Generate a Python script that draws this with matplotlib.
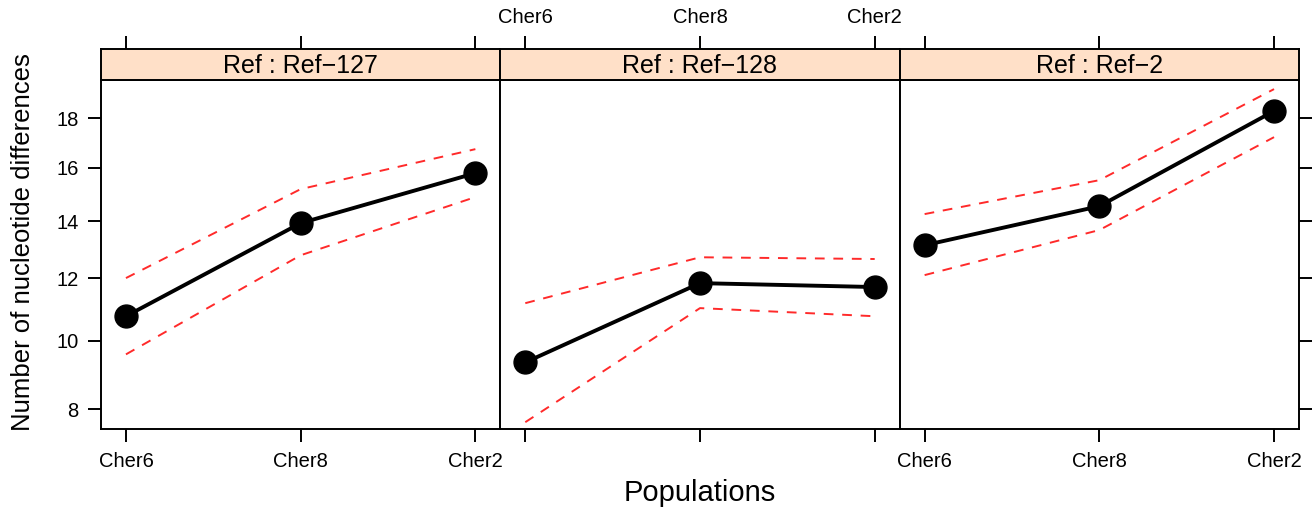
import numpy as np
import matplotlib
matplotlib.use("Agg")
import matplotlib.pyplot as plt

plt.rcParams['font.family'] = ['Liberation Sans', 'DejaVu Sans']

populations = ["Cher6", "Cher8", "Cher2"]
panels = ["Ref : Ref\u2212127", "Ref : Ref\u2212128", "Ref : Ref\u22122"]
means = [[10.76, 13.93, 15.80],
         [9.34, 11.84, 11.71],
         [13.14, 14.55, 18.29]]
upper = [[12.01, 15.19, 16.74],
         [11.18, 12.72, 12.66],
         [14.26, 15.53, 19.21]]
lower = [[9.58, 12.79, 14.89],
         [7.65, 11.02, 10.76],
         [12.11, 13.68, 17.22]]
yticks = [8, 10, 12, 14, 16, 18]

W, H = 1313, 509
fig = plt.figure(figsize=(W / 100, H / 100), dpi=100)

left_px, right_px = 101, 1299
panel_top, panel_bot = 80, 429.3
strip_top = 49.3
pw = (right_px - left_px) / 3
x = np.arange(1, 4)
xlim = (1 - 25 / 175, 3 + 25 / 175)
ylim = (7.46, 19.6)

tick_len = 9.2
lw_axis = 1.4

for i in range(3):
    l = (left_px + i * pw) / W
    ax = fig.add_axes([l, 1 - panel_bot / H, pw / W, (panel_bot - panel_top) / H])
    ax.set_yscale('function', functions=(np.sqrt, np.square))
    ax.set_xlim(*xlim)
    ax.set_ylim(*ylim)
    for s in ax.spines.values():
        s.set_linewidth(lw_axis)
    ax.plot(x, upper[i], color='#ff2a2a', lw=1.4, dashes=(5, 4.5))
    ax.plot(x, lower[i], color='#ff2a2a', lw=1.4, dashes=(5, 4.5))
    ax.plot(x, means[i], color='black', lw=2.8, marker='o', markersize=16.5,
            solid_capstyle='round')
    ax.set_xticks(x)
    ax.set_yticks(yticks)
    ax.yaxis.set_minor_locator(matplotlib.ticker.NullLocator())
    ax.tick_params(axis='both', direction='out', length=tick_len, width=lw_axis,
                   labelsize=14.5, pad=7)
    ax.tick_params(axis='x', top=False, bottom=True)
    if i == 1:
        ax.set_xticklabels([])
    else:
        ax.set_xticklabels(populations)
    if i == 0:
        ax.set_yticklabels([str(t) for t in yticks])
        ax.tick_params(axis='y', left=True, right=False, labelleft=True)
    elif i == 2:
        ax.tick_params(axis='y', left=False, right=True, labelleft=False, labelright=False)
    else:
        ax.tick_params(axis='y', left=False, right=False, labelleft=False)

    sax = fig.add_axes([l, 1 - panel_top / H, pw / W, (panel_top - strip_top) / H])
    sax.set_facecolor('#ffe0c8')
    sax.set_xlim(*xlim)
    sax.set_ylim(0, 1)
    for s in sax.spines.values():
        s.set_linewidth(lw_axis)
    sax.set_yticks([])
    sax.set_xticks(x)
    sax.tick_params(axis='x', direction='out', length=tick_len, width=lw_axis,
                    top=True, bottom=False, labelbottom=False,
                    labeltop=(i == 1), labelsize=14.5, pad=7)
    if i == 1:
        sax.set_xticklabels(populations)
    sax.text(0.5, 0.45, panels[i], transform=sax.transAxes, ha='center',
             va='center', fontsize=18)

fig.text((left_px + right_px) / 2 / W, 1 - 493 / H, "Populations",
         ha='center', va='center', fontsize=21)
fig.text(23 / W, 1 - 242 / H, "Number of nucleotide differences",
         ha='center', va='center', rotation=90, fontsize=18.5)

fig.savefig("out.png", dpi=100)
